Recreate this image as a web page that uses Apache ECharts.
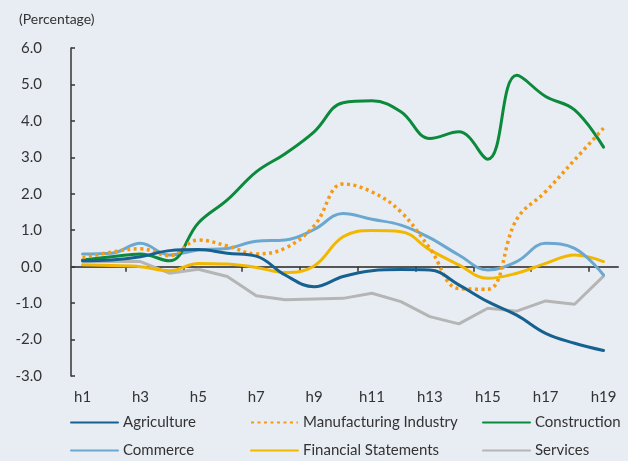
<!DOCTYPE html>
<html>
<head>
<meta charset="utf-8">
<script src="https://cdn.jsdelivr.net/npm/echarts@6/dist/echarts.min.js"></script>
<style>
  html, body { margin: 0; padding: 0; background: #e8edf3; }
  #draw_area { width: 628px; height: 461px; }
</style>
</head>
<body>
<div id="draw_area"></div>
<script>
"use strict";

// x categories h1..h19
var categories = ['h1', 'h2', 'h3', 'h4', 'h5', 'h6', 'h7', 'h8', 'h9', 'h10',
    'h11', 'h12', 'h13', 'h14', 'h15', 'h16', 'h17', 'h18', 'h19'];

// values (percentage)
var agriculture = [0.16, 0.18, 0.27, 0.44, 0.47, 0.37, 0.29, -0.23, -0.55, -0.27,
    -0.11, -0.08, -0.09, -0.5, -0.96, -1.33, -1.83, -2.1, -2.3];
var manufacturing = [0.24, 0.4, 0.49, 0.3, 0.73, 0.57, 0.35, 0.51, 1.12, 2.27,
    2.05, 1.5, 0.5, -0.6, -0.62, 1.3, 2.06, 2.93, 3.8];
var construction = [0.18, 0.27, 0.35, 0.16, 1.2, 1.83, 2.6, 3.1, 3.7, 4.5,
    4.55, 4.25, 3.52, 3.7, 2.95, 5.25, 4.67, 4.3, 3.28];
var commerce = [0.35, 0.37, 0.64, 0.32, 0.46, 0.5, 0.7, 0.73, 1.02, 1.46,
    1.3, 1.14, 0.79, 0.32, -0.09, 0.14, 0.64, 0.5, -0.23];
var financial = [0.05, 0.03, 0.0, -0.11, 0.09, 0.07, -0.02, -0.16, 0.02, 0.82,
    0.99, 0.96, 0.46, 0.05, -0.32, -0.18, 0.09, 0.32, 0.14];
var services = [0.14, 0.15, 0.14, -0.18, -0.07, -0.27, -0.8, -0.91, -0.89, -0.87,
    -0.73, -0.96, -1.37, -1.57, -1.14, -1.22, -0.94, -1.03, -0.26];

var series_names = ['Agriculture', 'Manufacturing Industry', 'Construction',
    'Commerce', 'Financial Statements', 'Services'];

var yTicks = [-3, -2, -1, 0, 1, 2, 3, 4, 5, 6];

var FONT = 'Lato, "DejaVu Sans", sans-serif';

function toPairs(values) {
    return values.map(function (v, i) { return [i + 1, v]; });
}

// ticks sit between every other category, labels on odd categories
var tickValues = [];
var labelValues = [];
for (var i = 0; i < categories.length; i++) {
    if (i % 2 === 0) labelValues.push(i + 1);
    if (i % 2 === 1) tickValues.push(i + 1.5);
}

function lineSeries(name, values, color, opts) {
    opts = opts || {};
    return {
        name: name,
        type: 'line',
        data: toPairs(values),
        smooth: opts.smooth === undefined ? 0.4 : opts.smooth,
        showSymbol: false,
        symbol: 'none',
        z: opts.z || 2,
        lineStyle: { color: color, width: opts.width || 3, type: opts.type || 'solid', cap: opts.cap || 'round' },
        itemStyle: { color: color }
    };
}

function legendItem(name, left, top) {
    return {
        data: [name],
        left: left,
        top: top,
        itemWidth: 47,
        itemHeight: 4,
        itemGap: 5,
        padding: 0,
        selectedMode: false,
        itemStyle: { opacity: 0 },
        textStyle: { fontFamily: FONT, fontSize: 15, color: '#333' }
    };
}

const option = {
    backgroundColor: '#e8edf3',
    animation: false,
    title: {
        text: '(Percentage)',
        left: 14,
        top: 7,
        textStyle: { fontFamily: FONT, fontSize: 14, fontWeight: 'normal', color: '#333' }
    },
    grid: { left: 71, right: 10, top: 48, bottom: 85 },
    legend: [
        legendItem(series_names[0], 70, 415),
        legendItem(series_names[1], 250, 415),
        legendItem(series_names[2], 482, 415),
        legendItem(series_names[3], 70, 443),
        legendItem(series_names[4], 250, 443),
        legendItem(series_names[5], 482, 443)
    ],
    xAxis: [
        {
            type: 'value',
            min: 0.6,
            max: 19.5,
            axisLine: { onZero: true, lineStyle: { color: '#555', width: 2 } },
            axisTick: { show: true, customValues: tickValues, length: 5, lineStyle: { color: '#333', width: 1.5 } },
            axisLabel: { show: false },
            splitLine: { show: false }
        },
        {
            type: 'value',
            position: 'bottom',
            min: 0.6,
            max: 19.5,
            axisLine: { show: false, onZero: false },
            axisTick: { show: false },
            splitLine: { show: false },
            axisLabel: {
                customValues: labelValues,
                margin: 14,
                fontFamily: FONT,
                fontSize: 15,
                color: '#333',
                formatter: function (v) { return categories[Math.round(v) - 1]; }
            }
        }
    ],
    yAxis: {
        type: 'value',
        min: yTicks[0],
        max: yTicks[yTicks.length - 1],
        interval: 1,
        axisLine: { show: true, lineStyle: { color: '#333', width: 1.5 } },
        axisTick: { show: true, inside: true, length: 4, lineStyle: { color: '#333', width: 1.5 } },
        splitLine: { show: false },
        axisLabel: {
            margin: 29,
            fontFamily: FONT,
            fontSize: 15,
            color: '#333',
            formatter: function (v) { return v.toFixed(1); }
        }
    },
    series: [
        lineSeries(series_names[5], services, '#b5b5b5', { smooth: false, z: 1 }),
        lineSeries(series_names[4], financial, '#f2b800'),
        lineSeries(series_names[3], commerce, '#6aa8d0'),
        lineSeries(series_names[2], construction, '#0c8a3c'),
        lineSeries(series_names[1], manufacturing, '#f59a12', { type: [3, 3.5], width: 3.5, cap: 'butt' }),
        lineSeries(series_names[0], agriculture, '#16618f')
    ]
};

var chart_object = echarts.init(document.getElementById('draw_area'));
chart_object.setOption(option);
</script>
</body>
</html>
